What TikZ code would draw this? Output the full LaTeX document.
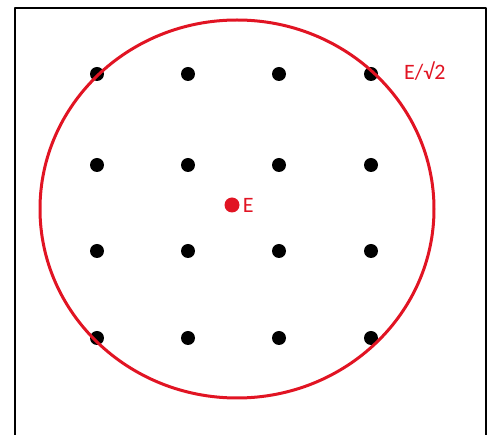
\documentclass[tikz,border=0pt]{standalone}
\usepackage{fontspec}
\setmainfont{Carlito}
\usetikzlibrary{positioning}
\definecolor{ringred}{RGB}{225,20,35}
\begin{document}
\begin{tikzpicture}[x=1pt,y=-1pt,line cap=round,line join=round]
\tikzset{
  dot/.style={circle,fill=black,inner sep=0pt,minimum size=14pt},
  lbl/.style={text=ringred,font=\fontsize{22}{26}\selectfont,inner sep=1pt}
}
\useasboundingbox (0,0) rectangle (491,435);

% frame, open at the bottom edge
\draw[line width=2.2pt] (15,450)--(15,8)--(486,8)--(486,450);

% lattice points
\node[dot] (a1) at (97,74) {};  \node[dot] (a2) at (188,74) {};
\node[dot] (a3) at (279,74) {}; \node[dot] (a4) at (371,74) {};
\node[dot] (b1) at (97,165) {};  \node[dot] (b2) at (188,165) {};
\node[dot] (b3) at (279,165) {}; \node[dot] (b4) at (371,165) {};
\node[dot] (c1) at (97,251) {};  \node[dot] (c2) at (188,251) {};
\node[dot] (c3) at (279,251) {}; \node[dot] (c4) at (371,251) {};
\node[dot] (d1) at (97,338) {};  \node[dot] (d2) at (188,338) {};
\node[dot] (d3) at (279,338) {}; \node[dot] (d4) at (371,338) {};

% energy point and the ring
\coordinate (O) at (237,209);
\draw[ringred,line width=3pt] (O) ellipse[x radius=197,y radius=189];
\node[dot,fill=ringred,minimum size=15pt] (E) at (232,205) {};
\node[lbl,right=2pt of E] (Elbl) {E};
\node[lbl,anchor=west] (Rlbl) at (403,71) {E/√2};
\end{tikzpicture}
\end{document}
